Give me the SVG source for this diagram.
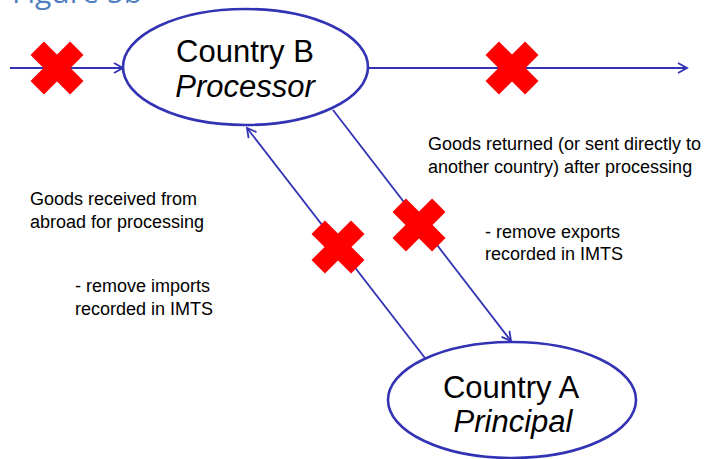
<svg xmlns="http://www.w3.org/2000/svg" width="705" height="459" viewBox="0 0 705 459">
<style>
.node{fill:#fff;stroke:#3232b4;stroke-width:2.6}
.conn{stroke:#3232b4;stroke-width:1.8;fill:none}
.t{font-family:"Liberation Sans",Arial,sans-serif;fill:#000}
.big{font-size:31px}
.lbl{font-size:18px}
.x{fill:#ff0000}
</style>
<defs>
<marker id="ah" markerUnits="userSpaceOnUse" markerWidth="14" markerHeight="14" viewBox="0 0 14 14" refX="12" refY="7" orient="auto">
<path d="M3,2 L12,7 L3,12" fill="none" stroke="#3232b4" stroke-width="1.8"/>
</marker>
<g id="xm">
<rect x="-28" y="-9.5" width="56" height="19" transform="rotate(45)"/>
<rect x="-28" y="-9.5" width="56" height="19" transform="rotate(-45)"/>
</g>
</defs>
<rect width="705" height="459" fill="#fff"/>
<text x="12" y="3" style="font-family:'Open Sans',sans-serif;font-size:30px;fill:#4f7fbf">Figure 5b</text>
<g id="connectors">
<line class="conn" x1="10" y1="68" x2="123" y2="68" marker-end="url(#ah)"/>
<line class="conn" x1="368" y1="68" x2="687" y2="68" marker-end="url(#ah)"/>
<line class="conn" x1="425" y1="358" x2="247" y2="128" marker-end="url(#ah)"/>
<line class="conn" x1="333" y1="110" x2="511" y2="341" marker-end="url(#ah)"/>
</g>
<g id="nodeB">
<ellipse class="node" cx="245.5" cy="67" rx="122.5" ry="58"/>
<text class="t big" x="245" y="62" text-anchor="middle">Country B</text>
<text class="t big" x="245" y="97" text-anchor="middle" font-style="italic">Processor</text>
</g>
<g id="nodeA">
<ellipse class="node" cx="512" cy="400" rx="124" ry="58"/>
<text class="t big" x="511" y="398" text-anchor="middle">Country A</text>
<text class="t big" x="513" y="432" text-anchor="middle" font-style="italic">Principal</text>
</g>
<g id="marks" class="x">
<use href="#xm" x="57" y="68"/>
<use href="#xm" x="512" y="68"/>
<use href="#xm" x="338" y="247"/>
<use href="#xm" x="419" y="225"/>
</g>
<g id="labels">
<text class="t lbl" x="30" y="205">Goods received from</text>
<text class="t lbl" x="30" y="228">abroad for processing</text>
<text class="t lbl" x="75" y="292">- remove imports</text>
<text class="t lbl" x="75" y="315">recorded in IMTS</text>
<text class="t lbl" x="428" y="150">Goods returned (or sent directly to</text>
<text class="t lbl" x="428" y="173">another country) after processing</text>
<text class="t lbl" x="485" y="238">- remove exports</text>
<text class="t lbl" x="485" y="260">recorded in IMTS</text>
</g>
</svg>
